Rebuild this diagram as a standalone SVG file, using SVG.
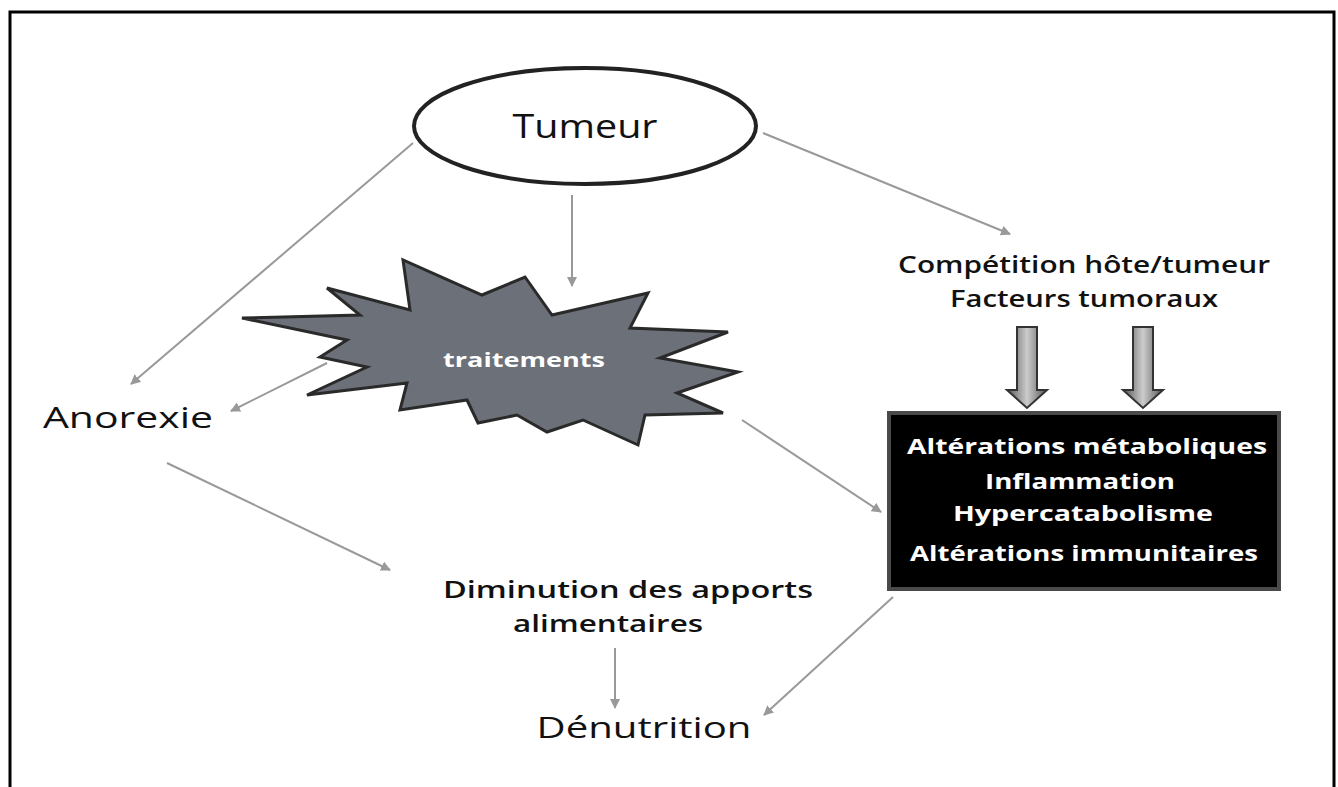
<svg xmlns="http://www.w3.org/2000/svg" width="1338" height="787" viewBox="0 0 1338 787">
<style>
.t{font-family:"Open Sans","Liberation Sans",sans-serif;fill:#111;text-anchor:middle}
.s{font-weight:600}
.b{font-family:"Open Sans","Liberation Sans",sans-serif;font-weight:bold;fill:#fff;text-anchor:middle}
.c{stroke:#999;stroke-width:2;fill:none;marker-end:url(#ah)}
.blk{fill:url(#g);stroke:#333;stroke-width:2}
</style>
<defs>
<marker id="ah" viewBox="0 0 10 10" refX="9" refY="5" markerWidth="5" markerHeight="5" orient="auto" markerUnits="strokeWidth">
<path d="M0,0 L10,5 L0,10 z" fill="#999"/>
</marker>
<linearGradient id="g" x1="0" y1="0" x2="1" y2="0">
<stop offset="0" stop-color="#555"/>
<stop offset="0.5" stop-color="#ccc"/>
<stop offset="1" stop-color="#555"/>
</linearGradient>
</defs>
<rect width="1338" height="787" fill="#fff"/>
<g id="frame" fill="none" stroke="#000">
<path d="M10,787 V12 H1334 V787" stroke-width="3"/>
</g>
<g id="connectors">
<line class="c" x1="763" y1="133" x2="1010" y2="234"/>
<line class="c" x1="413" y1="143" x2="131" y2="384"/>
<line class="c" x1="572" y1="195" x2="572" y2="286"/>
<line class="c" x1="327" y1="363" x2="231" y2="411"/>
<line class="c" x1="742" y1="420" x2="881" y2="512"/>
<line class="c" x1="167" y1="463" x2="390" y2="570"/>
<line class="c" x1="615" y1="648" x2="615" y2="708"/>
<line class="c" x1="893" y1="597" x2="764" y2="715"/>
<path class="blk" d="M1017,327 H1037 V390 H1047 L1027,408 L1007,390 H1017 Z"/>
<path class="blk" d="M1133,327 H1153 V390 H1163 L1143,408 L1123,390 H1133 Z"/>
</g>
<g id="tumeur">
<ellipse cx="585" cy="126" rx="171" ry="58" fill="#fff" stroke="#222" stroke-width="4"/>
<text class="t" x="585" y="138" font-size="32" textLength="145" lengthAdjust="spacingAndGlyphs">Tumeur</text>
</g>
<g id="traitements">
<path d="M242,318 L347,340 L320,357 L367,367 L307,395 L407,383 L400,410 L467,400 L478,423 L517,415 L547,432 L583,420 L638,445 L645,415 L723,413 L677,393 L738,372 L660,358 L728,332 L630,328 L648,293 L552,315 L525,277 L482,295 L403,260 L410,310 L327,288 L360,315 Z" fill="#6c7079" stroke="#2a2a2a" stroke-width="3" stroke-linejoin="miter"/>
<text class="b" x="524" y="367" font-size="19" textLength="162" lengthAdjust="spacingAndGlyphs">traitements</text>
</g>
<g id="anorexie">
<text class="t" x="128" y="428" font-size="29" textLength="170" lengthAdjust="spacingAndGlyphs">Anorexie</text>
</g>
<g id="competition">
<text class="t s" x="1084" y="273" font-size="23" textLength="372" lengthAdjust="spacingAndGlyphs">Compétition hôte/tumeur</text>
<text class="t s" x="1084" y="307" font-size="23" textLength="268" lengthAdjust="spacingAndGlyphs">Facteurs tumoraux</text>
</g>
<g id="alterations">
<rect x="889" y="413" width="390" height="176" fill="#000" stroke="#4a4a4a" stroke-width="4"/>
<text class="b" x="1087" y="454" font-size="22" textLength="360" lengthAdjust="spacingAndGlyphs">Altérations métaboliques</text>
<text class="b" x="1080" y="489" font-size="22" textLength="190" lengthAdjust="spacingAndGlyphs">Inflammation</text>
<text class="b" x="1083" y="521" font-size="22" textLength="260" lengthAdjust="spacingAndGlyphs">Hypercatabolisme</text>
<text class="b" x="1084" y="561" font-size="22" textLength="348" lengthAdjust="spacingAndGlyphs">Altérations immunitaires</text>
</g>
<g id="diminution">
<text class="t s" x="628" y="598" font-size="23" textLength="370" lengthAdjust="spacingAndGlyphs">Diminution des apports</text>
<text class="t s" x="608" y="632" font-size="23" textLength="190" lengthAdjust="spacingAndGlyphs">alimentaires</text>
</g>
<g id="denutrition">
<text class="t" x="644" y="738" font-size="30" textLength="215" lengthAdjust="spacingAndGlyphs">Dénutrition</text>
</g>
</svg>
